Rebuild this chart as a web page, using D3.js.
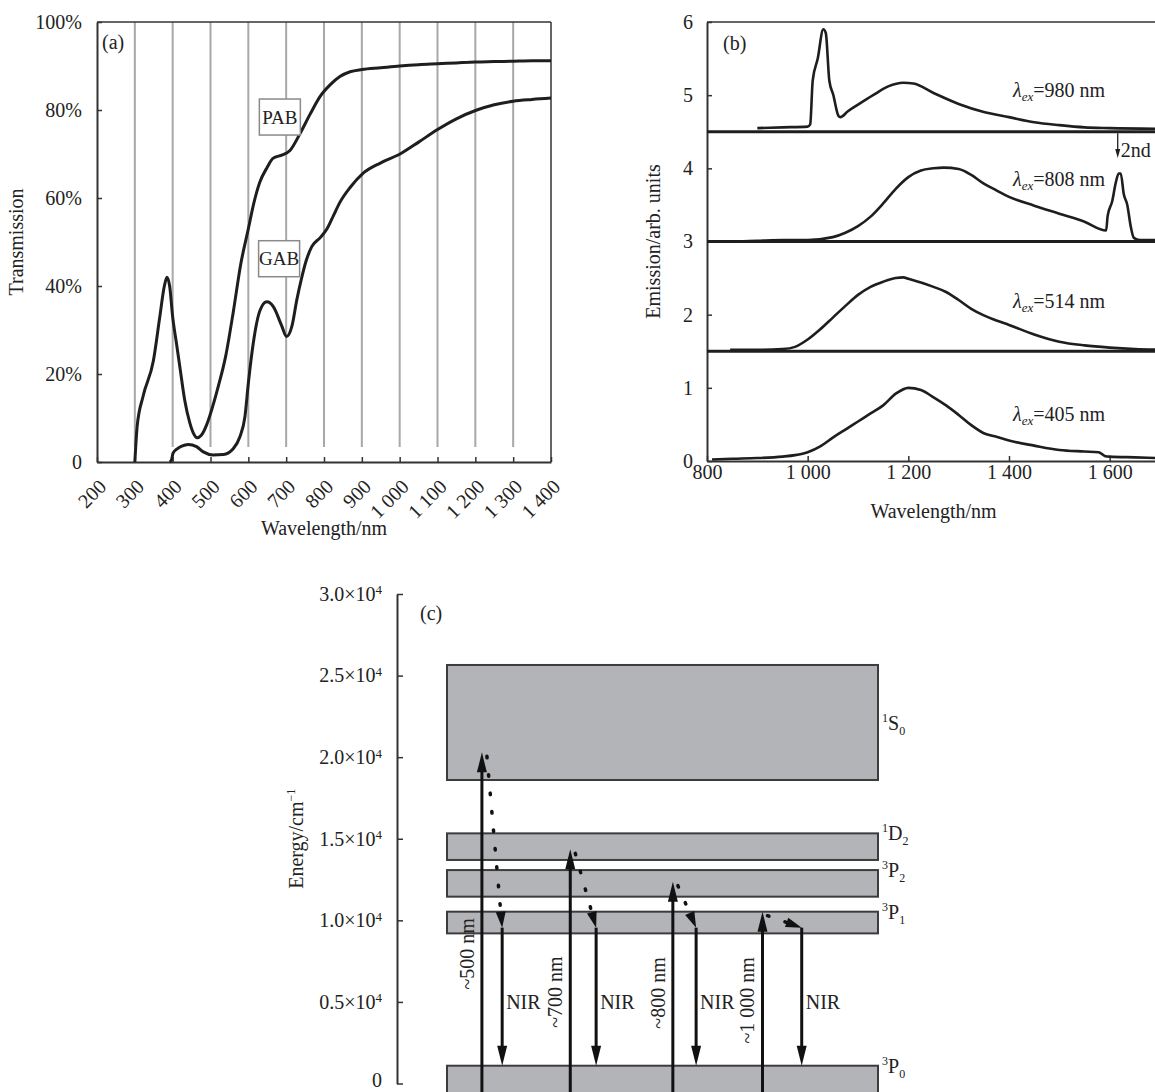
<!DOCTYPE html>
<html>
<head>
<meta charset="utf-8">
<script src="https://cdn.jsdelivr.net/npm/d3@7"></script>
<style>
  body { margin: 0; background: #fff; }
  svg text { font-family: "Liberation Serif", "Times New Roman", serif; fill: #222; }
</style>
</head>
<body>
<div id="chart"></div>
<script>
// ---------- panel (a) data: transmission
const gridWl = [300, 400, 500, 600, 700, 800, 900, 1000, 1100, 1200, 1300];
const aTicksX = [200, 300, 400, 500, 600, 700, 800, 900, 1000, 1100, 1200, 1300, 1400];
const aTicksY = [0, 20, 40, 60, 80, 100];

const pabWl = [300, 302, 306, 322, 349, 366, 378, 385, 392, 400, 410, 420, 432, 445, 455, 465, 475, 490, 500, 520,
  540, 560, 580, 600, 615, 630, 650, 665, 690, 710, 737, 763, 789, 816, 842, 869, 900, 950, 1000, 1050,
  1100, 1150, 1200, 1250, 1300, 1350, 1400];
const pabT = [0, 3, 8, 15, 23, 33, 40, 42, 40, 33, 27, 21, 14, 9, 6.5, 5.5, 6, 8.5, 11, 17,
  24, 34, 45, 53, 59, 63.5, 67, 69, 69.8, 70.8, 74.7, 79, 83, 85.7, 87.6, 88.7, 89.2, 89.6, 90, 90.3,
  90.5, 90.7, 90.9, 91, 91.1, 91.2, 91.2];

const gabWl = [392, 397, 401, 412, 424, 441, 463, 481, 507, 534, 560, 578, 591, 600, 613, 631, 649, 666, 688, 701,
  715, 728, 740, 752, 768, 790, 808, 825, 842, 870, 903, 950, 1001, 1050, 1099, 1150, 1204, 1250, 1300, 1350, 1400];
const gabT = [0, 0.5, 2, 3, 3.6, 4, 3.5, 2.3, 1.6, 1.7, 3, 5.8, 10.3, 17.9, 27, 34.5, 36.4, 35.3, 31, 28.5,
  30.8, 36.8, 41.5, 45.5, 49, 51, 53, 56, 59, 62.5, 65.6, 68, 70, 72.7, 75.5, 78, 80, 81.2, 82, 82.4, 82.7];

// label boxes anchored at (wavelength, transmission)
const glassNames = ["PAB", "GAB"];
const glassLabelWl = [682, 680];
const glassLabelT = [78.4, 46.2];

// ---------- panel (b) data: emission
const bTicksX = [800, 1000, 1200, 1400, 1600];
const bTicksY = [0, 1, 2, 3, 4, 5, 6];
const exNames = ["980", "808", "514", "405"];
const exOffsets = [4.5, 3, 1.5, 0];
const exLabelY = [4.98, 3.76, 2.09, 0.54];
const exLabelWl = 1408;

const ex980Wl = [900, 950, 1000, 1005, 1010, 1020, 1031, 1036, 1043, 1051, 1061, 1065, 1080, 1100, 1130, 1160, 1190, 1210,
  1250, 1300, 1350, 1400, 1450, 1500, 1550, 1600, 1700];
const ex980 = [4.55, 4.56, 4.57, 4.6, 5.2, 5.5, 5.9, 5.85, 5.2, 5.0, 4.72, 4.7, 4.78, 4.87, 5.0, 5.12, 5.17, 5.16,
  5.03, 4.88, 4.77, 4.7, 4.63, 4.59, 4.56, 4.55, 4.54];

const ex808Wl = [812, 850, 900, 950, 1000, 1050, 1075, 1100, 1125, 1150, 1175, 1200, 1225, 1250, 1270, 1300, 1325, 1350,
  1375, 1400, 1450, 1500, 1550, 1593, 1596, 1605, 1612, 1618, 1622, 1628, 1635, 1642, 1648, 1660, 1700];
const ex808 = [3.0, 3.0, 3.01, 3.02, 3.02, 3.06, 3.12, 3.21, 3.34, 3.52, 3.72, 3.88, 3.97, 4.0, 4.01, 3.99, 3.91, 3.79,
  3.7, 3.61, 3.49, 3.38, 3.27, 3.15, 3.35, 3.55, 3.8, 3.93, 3.93, 3.65, 3.5, 3.2, 3.05, 3.02, 3.02];

const ex514Wl = [846, 900, 950, 975, 1000, 1025, 1050, 1075, 1100, 1125, 1150, 1175, 1190, 1200, 1225, 1250, 1275, 1300,
  1325, 1350, 1375, 1400, 1450, 1500, 1550, 1600, 1650, 1700];
const ex514 = [1.52, 1.52, 1.53, 1.56, 1.66, 1.8, 1.96, 2.12, 2.27, 2.38, 2.45, 2.5, 2.51, 2.49, 2.44, 2.38, 2.31, 2.2,
  2.08, 1.99, 1.92, 1.86, 1.73, 1.63, 1.58, 1.55, 1.53, 1.52];

const ex405Wl = [810, 850, 900, 950, 975, 1000, 1025, 1050, 1075, 1100, 1125, 1150, 1175, 1200, 1225, 1250, 1275, 1300,
  1325, 1350, 1375, 1400, 1450, 1500, 1550, 1578, 1590, 1600, 1650, 1700];
const ex405 = [0.02, 0.03, 0.04, 0.06, 0.08, 0.12, 0.2, 0.32, 0.43, 0.54, 0.65, 0.76, 0.92, 1.0, 0.97, 0.87, 0.76, 0.63,
  0.49, 0.38, 0.33, 0.28, 0.21, 0.15, 0.13, 0.12, 0.07, 0.06, 0.05, 0.04];

const secondOrderWl = 1616;
const secondOrderFrom = 4.48;
const secondOrderTo = 4.14;

// ---------- panel (c) data: energy levels
const cTicksY = [0, 5000, 10000, 15000, 20000, 25000, 30000];
const levelSup = ["1", "1", "3", "3", "3"];
const levelLetter = ["S", "D", "P", "P", "P"];
const levelSub = ["0", "2", "2", "1", "0"];
const levelTop = [25650, 15330, 13080, 10530, 1090];
const levelBottom = [18600, 13700, 11450, 9200, -1500];

const pumpText = ["~500 nm", "~700 nm", "~800 nm", "~1 000 nm"];
const pumpPos = [0.81, 2.86, 5.24, 7.32];
const pumpTop = [20300, 14350, 12370, 10530];
const pumpLabelE = [7950, 5600, 5550, 5100];
const nirPos = [1.28, 3.46, 5.78, 8.23];
const nirStartE = 9550;
const nirLabelE = 5010;

// ---------- setup
const W = 1155, H = 1092, FONT = 20;
const svg = d3.select("#chart").append("svg")
  .attr("width", W).attr("height", H)
  .style("background", "#fff");

const ink = "#1e1e1e";
const spaced = d => d >= 1000 ? d3.format(",")(d).replace(/,/g, " ") : String(d);

function styleAxis(g) {
  g.attr("font-family", null).attr("font-size", FONT);
  g.select(".domain").attr("stroke", "#333").attr("stroke-width", 2);
  g.selectAll(".tick line").attr("stroke", "#333").attr("stroke-width", 1.5);
  g.selectAll("text").attr("font-size", FONT);
}

function arrowHead(x1, y1, x2, y2, len, wid) {
  const n = Math.hypot(x2 - x1, y2 - y1), ux = (x2 - x1) / n, uy = (y2 - y1) / n;
  const bx = x2 - ux * len, by = y2 - uy * len;
  return `M${x2},${y2}L${bx - uy * wid / 2},${by + ux * wid / 2}L${bx + uy * wid / 2},${by - ux * wid / 2}Z`;
}

// ================= panel (a)
const A = { left: 97, right: 551, top: 22, bottom: 462 };
const xA = d3.scaleLinear().domain([200, 1400]).range([A.left, A.right]);
const yA = d3.scaleLinear().domain([0, 100]).range([A.bottom, A.top]);
const gA = svg.append("g");

gA.selectAll("line.grid").data(gridWl).join("line")
  .attr("class", "grid")
  .attr("x1", d => xA(d)).attr("x2", d => xA(d))
  .attr("y1", A.top).attr("y2", A.bottom - 15)
  .attr("stroke", "#a8a8ac").attr("stroke-width", 2);

// frame
gA.append("line").attr("x1", A.left).attr("x2", A.right).attr("y1", A.top).attr("y2", A.top)
  .attr("stroke", "#333").attr("stroke-width", 1.5);
gA.append("line").attr("x1", A.right).attr("x2", A.right).attr("y1", A.top).attr("y2", A.bottom)
  .attr("stroke", "#333").attr("stroke-width", 1.5);

gA.append("g").attr("transform", `translate(0,${A.bottom})`)
  .call(d3.axisBottom(xA).tickValues(aTicksX).tickSizeInner(-5).tickSizeOuter(0).tickFormat(spaced))
  .call(styleAxis)
  .call(g => g.selectAll("text")
    .attr("text-anchor", "end").attr("y", 0).attr("dy", "0.35em")
    .attr("transform", "translate(5,21) rotate(-45)"));

gA.append("g").attr("transform", `translate(${A.left},0)`)
  .call(d3.axisLeft(yA).tickValues(aTicksY).tickSizeInner(-5).tickSizeOuter(0).tickPadding(15)
    .tickFormat(d => d === 0 ? "0" : d + "%"))
  .call(styleAxis);

const lineA = d3.line().x(d => xA(d[0])).y(d => yA(d[1])).curve(d3.curveMonotoneX);
gA.append("path").attr("d", lineA(d3.zip(pabWl, pabT)))
  .attr("fill", "none").attr("stroke", ink).attr("stroke-width", 3);
gA.append("path").attr("d", lineA(d3.zip(gabWl, gabT)))
  .attr("fill", "none").attr("stroke", ink).attr("stroke-width", 3);

glassNames.forEach((nm, i) => {
  const cx = xA(glassLabelWl[i]), cy = yA(glassLabelT[i]);
  gA.append("rect").attr("x", cx - 20).attr("y", cy - 18).attr("width", 41).attr("height", 36)
    .attr("fill", "#fff").attr("stroke", "#8a8a8a").attr("stroke-width", 1.5);
  gA.append("text").attr("x", cx + 0.5).attr("y", cy).attr("dy", "0.35em")
    .attr("text-anchor", "middle").attr("font-size", 19).text(nm);
});

gA.append("text").attr("x", 102).attr("y", 49).attr("font-size", FONT).text("(a)");
gA.append("text").attr("transform", `translate(23,${(A.top + A.bottom) / 2}) rotate(-90)`)
  .attr("text-anchor", "middle").attr("font-size", FONT).text("Transmission");
gA.append("text").attr("x", (A.left + A.right) / 2).attr("y", 535)
  .attr("text-anchor", "middle").attr("font-size", FONT).text("Wavelength/nm");

// ================= panel (b)
const B = { left: 707, right: 1160, top: 22, bottom: 461 };
const xB = d3.scaleLinear().domain([800, 1700]).range([B.left, B.right]);
const yB = d3.scaleLinear().domain([0, 6]).range([B.bottom, B.top]);
const gB = svg.append("g");

gB.append("line").attr("x1", B.left).attr("x2", B.right).attr("y1", B.top).attr("y2", B.top)
  .attr("stroke", "#333").attr("stroke-width", 1.5);

gB.append("g").attr("transform", `translate(0,${B.bottom})`)
  .call(d3.axisBottom(xB).tickValues(bTicksX).tickSizeInner(-5).tickSizeOuter(0).tickPadding(4).tickFormat(spaced))
  .call(styleAxis);
gB.append("g").attr("transform", `translate(${B.left},0)`)
  .call(d3.axisLeft(yB).tickValues(bTicksY).tickSizeInner(-5).tickSizeOuter(0).tickPadding(14)
    .tickFormat(d3.format("d")))
  .call(styleAxis);

// baselines of the offset spectra
gB.selectAll("line.base").data(exOffsets.filter(d => d > 0)).join("line")
  .attr("class", "base")
  .attr("x1", B.left).attr("x2", B.right)
  .attr("y1", d => yB(d)).attr("y2", d => yB(d))
  .attr("stroke", ink).attr("stroke-width", 3);

const lineB = d3.line().x(d => xB(d[0])).y(d => yB(d[1])).curve(d3.curveMonotoneX);
const spectra = [d3.zip(ex980Wl, ex980), d3.zip(ex808Wl, ex808), d3.zip(ex514Wl, ex514), d3.zip(ex405Wl, ex405)];
gB.selectAll("path.spec").data(spectra).join("path")
  .attr("class", "spec")
  .attr("d", lineB)
  .attr("fill", "none").attr("stroke", ink).attr("stroke-width", 2.6).attr("stroke-linejoin", "round");

exNames.forEach((nm, i) => {
  const t = gB.append("text").attr("x", xB(exLabelWl)).attr("y", yB(exLabelY[i])).attr("font-size", FONT);
  t.append("tspan").attr("font-style", "italic").text("λ");
  t.append("tspan").attr("font-style", "italic").attr("font-size", 13).attr("dy", 4).text("ex");
  t.append("tspan").attr("dy", -4).text("=" + nm + " nm");
});

// second-order marker
const soX = xB(secondOrderWl);
gB.append("line").attr("x1", soX).attr("x2", soX)
  .attr("y1", yB(secondOrderFrom)).attr("y2", yB(secondOrderTo) - 7)
  .attr("stroke", ink).attr("stroke-width", 1.3);
gB.append("path").attr("d", arrowHead(soX, yB(secondOrderFrom), soX, yB(secondOrderTo), 9, 5)).attr("fill", ink);
gB.append("text").attr("x", soX + 3).attr("y", yB(secondOrderTo) - 1).attr("font-size", FONT).text("2nd");

gB.append("text").attr("x", 723).attr("y", 50).attr("font-size", FONT).text("(b)");
gB.append("text").attr("transform", `translate(660,${(B.top + B.bottom) / 2}) rotate(-90)`)
  .attr("text-anchor", "middle").attr("font-size", FONT).text("Emission/arb. units");
gB.append("text").attr("x", (B.left + B.right) / 2).attr("y", 518)
  .attr("text-anchor", "middle").attr("font-size", FONT).text("Wavelength/nm");

// ================= panel (c)
const C = { left: 397, top: 594, bottom: 1083.5 };
const yC = d3.scaleLinear().domain([0, 30000]).range([C.bottom, C.top]);
const xC = d3.scaleLinear().domain([0, 10]).range([447, 878]);
const gC = svg.append("g");

gC.append("g").attr("transform", `translate(${C.left},0)`)
  .call(d3.axisLeft(yC).tickValues(cTicksY).tickSizeInner(-6).tickSizeOuter(0).tickPadding(15).tickFormat(() => ""))
  .call(styleAxis)
  .call(g => g.selectAll(".tick text").each(function (d) {
    const t = d3.select(this);
    if (d === 0) { t.text("0").attr("dy", "0.15em"); return; }
    t.append("tspan").text((d / 10000).toFixed(1) + "×10");
    t.append("tspan").attr("font-size", 13).attr("dy", "-0.5em").text("4");
  }));

// levels
const levels = levelTop.map((t, i) => ({ top: t, bottom: levelBottom[i], sup: levelSup[i], letter: levelLetter[i], sub: levelSub[i] }));
gC.selectAll("rect.level").data(levels).join("rect")
  .attr("class", "level")
  .attr("x", xC(0)).attr("width", xC(10) - xC(0))
  .attr("y", d => yC(d.top)).attr("height", d => yC(d.bottom) - yC(d.top))
  .attr("fill", "#b3b4b8").attr("stroke", "#3c3c3c").attr("stroke-width", 2);

levels.forEach(d => {
  const h = yC(d.bottom) - yC(d.top);
  const by = h > 60 ? (yC(d.top) + yC(d.bottom)) / 2 + 8 : yC(d.top) + 7;
  const t = gC.append("text").attr("x", xC(10) + 4).attr("y", by).attr("font-size", FONT);
  t.append("tspan").attr("font-size", 12).attr("dy", -8).text(d.sup);
  t.append("tspan").attr("dy", 8).text(d.letter);
  t.append("tspan").attr("font-size", 12).attr("dy", 5).text(d.sub);
});

// pump (excitation) arrows
const yLow = yC(-2000);
pumpPos.forEach((p, i) => {
  const x = xC(p), yt = yC(pumpTop[i]);
  gC.append("line").attr("x1", x).attr("x2", x).attr("y1", yLow).attr("y2", yt + 14)
    .attr("stroke", "#111").attr("stroke-width", 3);
  gC.append("path").attr("d", arrowHead(x, yt + 20, x, yt, 20, 10)).attr("fill", "#111");
  const ly = yC(pumpLabelE[i]);
  gC.append("text").attr("transform", `translate(${x - 8},${ly}) rotate(-90)`)
    .attr("text-anchor", "middle").attr("font-size", FONT).text(pumpText[i]);
});

// relaxation (dotted) and NIR emission arrows
nirPos.forEach((p, i) => {
  const xs = xC(pumpPos[i]) + 5, ys = yC(pumpTop[i]) + 4;
  const xe = xC(p), ye = yC(nirStartE);
  const n = Math.hypot(xe - xs, ye - ys);
  const stopX = xe - (xe - xs) / n * 12, stopY = ye - (ye - ys) / n * 12;
  gC.append("line").attr("x1", xs).attr("y1", ys).attr("x2", stopX).attr("y2", stopY)
    .attr("stroke", "#111").attr("stroke-width", 3.5)
    .attr("stroke-linecap", "round").attr("stroke-dasharray", "1.5,17");
  gC.append("path").attr("d", arrowHead(xs, ys, xe, ye, 16, 10)).attr("fill", "#111");

  const yb = yC(levelTop[4]);
  gC.append("line").attr("x1", xe).attr("x2", xe).attr("y1", ye).attr("y2", yb - 14)
    .attr("stroke", "#111").attr("stroke-width", 3);
  gC.append("path").attr("d", arrowHead(xe, yb - 20, xe, yb, 20, 10)).attr("fill", "#111");
  gC.append("text").attr("x", xe + 4).attr("y", yC(nirLabelE)).attr("dy", "0.35em")
    .attr("font-size", FONT).text("NIR");
});

gC.append("text").attr("x", 420).attr("y", 620).attr("font-size", FONT).text("(c)");
const eTitle = gC.append("text").attr("transform", `translate(303,${(C.top + C.bottom) / 2}) rotate(-90)`)
  .attr("text-anchor", "middle").attr("font-size", FONT);
eTitle.append("tspan").text("Energy/cm");
eTitle.append("tspan").attr("font-size", 12).attr("dy", -8).text("−1");
</script>
</body>
</html>
